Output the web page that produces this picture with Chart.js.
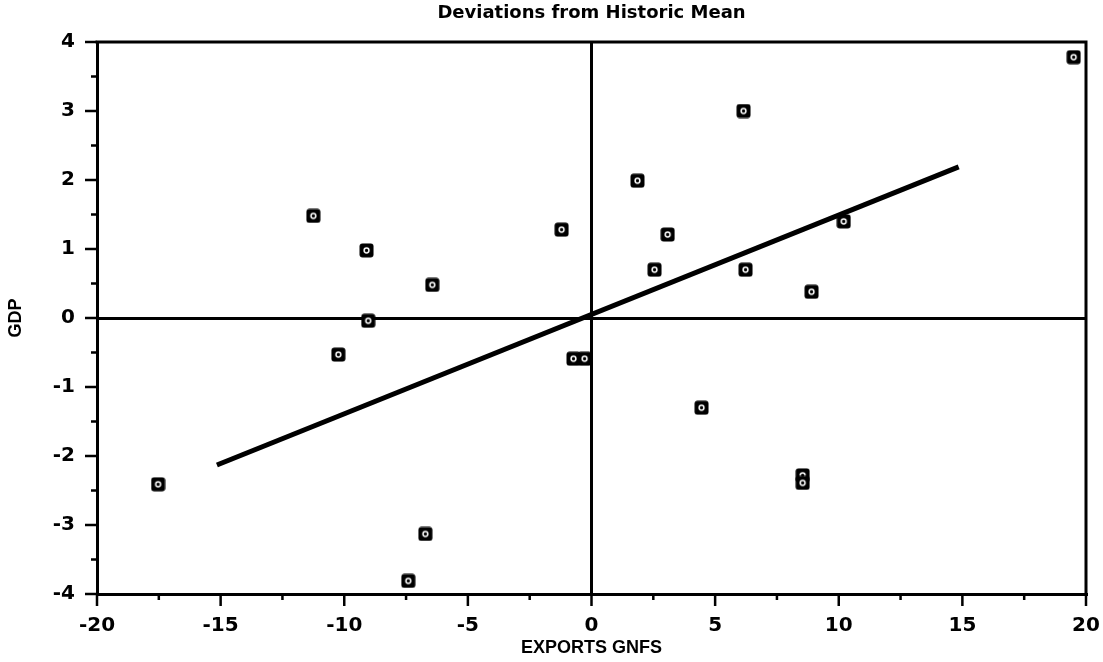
<!DOCTYPE html>
<html>
<head>
<meta charset="utf-8">
<script src="https://cdn.jsdelivr.net/npm/chart.js@4.4.1/dist/chart.umd.min.js"></script>
<style>
  html, body { margin: 0; padding: 0; background: #fff; }
  #wrap { width: 1103px; height: 662px; }
</style>
</head>
<body>
<div id="wrap"><canvas id="chart"></canvas></div>
<script>
// deviations from historic mean
const exportsDev = [19.5, 6.15, 1.86, 3.08, -1.21, 2.55, 6.23, 10.2, 8.9, -11.25,
  -9.1, -6.44, -9.03, -10.24, -0.73, -0.28, 4.45, 8.54, 8.54, -17.53, -6.72, -7.41];
const gdpDev = [3.78, 3.0, 1.99, 1.21, 1.28, 0.70, 0.70, 1.40, 0.38, 1.48,
  0.98, 0.48, -0.04, -0.53, -0.59, -0.59, -1.30, -2.28, -2.39, -2.41, -3.13, -3.81];
const fitX = [-15.15, 14.85];
const fitY = [-2.13, 2.19];
const xRange = [-20, 20];
const yRange = [-4, 4];
const chartTitle = 'Deviations from Historic Mean';

function makeMarker() {
  const c = document.createElement('canvas');
  c.width = 15; c.height = 15;
  const g = c.getContext('2d');
  g.fillStyle = '#000';
  g.beginPath();
  g.roundRect(0.5, 0.5, 14, 14, 3);
  g.fill();
  g.strokeStyle = '#fff';
  g.lineWidth = 1.5;
  g.beginPath();
  g.arc(7.5, 7.5, 2.4, 0, Math.PI * 2);
  g.stroke();
  return c;
}

// box on top/right, major + minor tick marks outside the axes, title over the plot
const frameTicks = {
  id: 'frameTicks',
  afterDraw(chart) {
    const { ctx, chartArea: a, scales: { x, y } } = chart;
    ctx.save();
    ctx.strokeStyle = '#000';
    ctx.lineWidth = 3;
    ctx.beginPath();
    ctx.moveTo(a.left - 1.5, a.top);
    ctx.lineTo(a.right, a.top);
    ctx.lineTo(a.right, a.bottom + 1.5);
    ctx.stroke();
    ctx.lineWidth = 2.5;
    ctx.beginPath();
    for (let v = yRange[0]; v <= yRange[1]; v += 0.5) {
      const py = y.getPixelForValue(v);
      const len = Number.isInteger(v) ? 12 : 6;
      ctx.moveTo(a.left - len, py);
      ctx.lineTo(a.left, py);
    }
    for (let v = xRange[0]; v <= xRange[1]; v += 2.5) {
      const px = x.getPixelForValue(v);
      const len = v % 5 === 0 ? 12 : 6;
      ctx.moveTo(px, a.bottom);
      ctx.lineTo(px, a.bottom + len);
    }
    ctx.stroke();

    ctx.fillStyle = '#000';
    ctx.font = 'bold 18px "DejaVu Sans"';
    ctx.textAlign = 'center';
    ctx.textBaseline = 'middle';
    ctx.fillText(chartTitle, (a.left + a.right) / 2, 13);
    ctx.restore();
  }
};

const zeroGrid = {
  drawOnChartArea: true,
  drawTicks: false,
  lineWidth: 3,
  color: (c) => (c.tick && c.tick.value === 0 ? '#000' : 'rgba(0,0,0,0)')
};

new Chart(document.getElementById('chart'), {
  type: 'scatter',
  data: {
    datasets: [
      {
        label: 'Observations',
        data: exportsDev.map((v, i) => ({ x: v, y: gdpDev[i] })),
        pointStyle: makeMarker(),
        pointRadius: 7
      },
      {
        type: 'line',
        label: 'Fit',
        data: fitX.map((v, i) => ({ x: v, y: fitY[i] })),
        borderColor: '#000',
        borderWidth: 5,
        pointRadius: 0,
        fill: false
      }
    ]
  },
  options: {
    responsive: true,
    maintainAspectRatio: false,
    animation: false,
    layout: { padding: { top: 42, right: 17, bottom: 0, left: 0 } },
    plugins: {
      legend: { display: false },
      tooltip: { enabled: false },
      title: { display: false }
    },
    scales: {
      x: {
        type: 'linear',
        min: xRange[0],
        max: xRange[1],
        afterFit: (s) => {
          s.height = 68;
          s.paddingRight = 0;
          s.paddingLeft = 0;
        },
        border: { color: '#000', width: 3 },
        grid: zeroGrid,
        ticks: {
          stepSize: 5,
          padding: 20,
          color: '#000',
          font: { family: 'DejaVu Sans', size: 20, weight: 'bold' }
        },
        title: {
          display: true,
          text: 'EXPORTS GNFS',
          color: '#000',
          font: { family: 'Liberation Sans', size: 18, weight: 'bold' },
          padding: { top: 0, bottom: 3 }
        }
      },
      y: {
        type: 'linear',
        min: yRange[0],
        max: yRange[1],
        afterFit: (s) => { s.width = 97; },
        border: { color: '#000', width: 3 },
        grid: zeroGrid,
        ticks: {
          stepSize: 1,
          padding: 22,
          color: '#000',
          font: { family: 'DejaVu Sans', size: 20, weight: 'bold' }
        },
        title: {
          display: true,
          text: 'GDP',
          color: '#000',
          font: { family: 'Liberation Sans', size: 18, weight: 'bold' },
          padding: { top: 5, bottom: 0 }
        }
      }
    }
  },
  plugins: [frameTicks]
});
</script>
</body>
</html>
